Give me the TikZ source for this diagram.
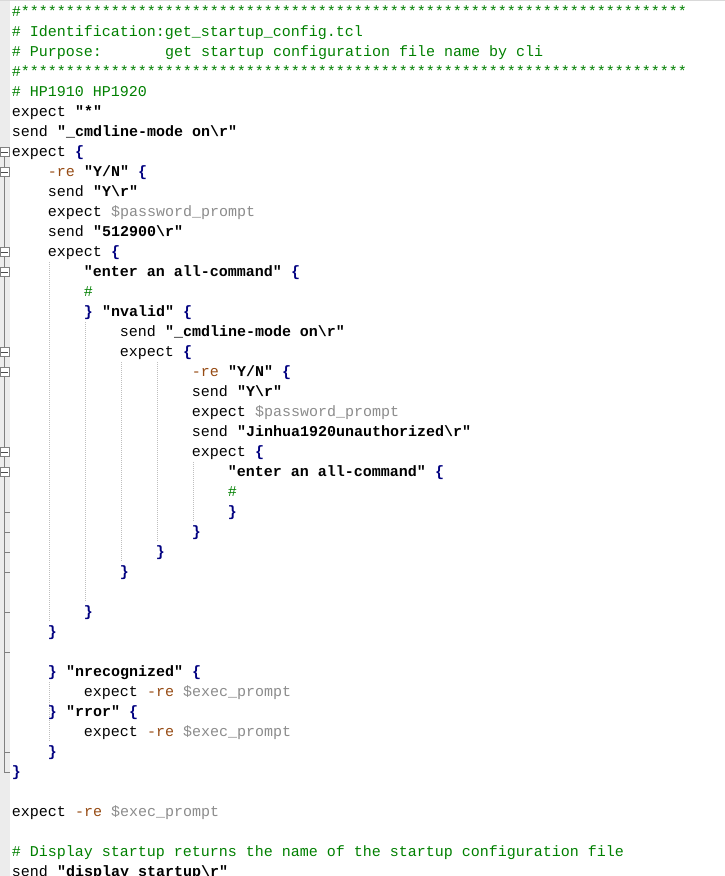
\documentclass[tikz,border=0pt]{standalone}
\usepackage{fontspec}
\setmonofont{Liberation Mono}
\usepackage{xcolor}
\usetikzlibrary{calc, positioning}
\definecolor{cmtgreen}{RGB}{0, 128, 0}
\definecolor{bracenavy}{RGB}{0, 0, 128}
\definecolor{optbrown}{RGB}{150, 75, 20}
\definecolor{vargray}{RGB}{140, 140, 140}
\definecolor{foldgray}{RGB}{128, 128, 128}
\definecolor{guidegray}{RGB}{190, 190, 190}
\definecolor{guttergray}{RGB}{236, 236, 236}
\newcommand{\codefont}{\ttfamily\fontsize{11.25pt}{15pt}\selectfont\frenchspacing
  \spaceskip=6.75pt\relax\xspaceskip=6.75pt\relax}
\newcommand{\green}[1]{{\color{cmtgreen}#1}}
\newcommand{\navy}[1]{{\color{bracenavy}\bfseries #1}}
\newcommand{\brown}[1]{{\color{optbrown}#1}}
\newcommand{\gray}[1]{{\color{vargray}#1}}
\newcommand{\qs}[1]{{\bfseries #1}}
\newcommand{\bsl}{\textbackslash}
\newcommand{\sps}[1]{\hspace*{#1\dimexpr 6.75pt\relax}}
\tikzset{
    linenode/.style = {draw=none, fill=none, rectangle, inner sep=0pt, outer sep=0pt,
      text width=528.75pt, align=flush left, text height=10.875pt, text depth=4.125pt,
      node distance=0em, font=\codefont},
    foldbox/.style = {draw=foldgray, fill=white, rectangle, inner sep=0pt, line width=0.75pt,
      minimum size=6.75pt},
    foldline/.style = {draw=foldgray, line width=0.75pt},
    minusline/.style = {draw=black!70, line width=0.75pt},
    guide/.style = {draw=guidegray, line width=0.75pt, dash pattern=on 0.75pt off 0.75pt}
}

\begin{document}
\begin{tikzpicture}[x=0.75pt, y=-0.75pt]
    \useasboundingbox (0,0) rectangle (725,876);
    \clip (0,0) rectangle (725,876);
    \fill[white] (0,0) rectangle (725,876);
    \fill[guttergray] (0,0) rectangle (10,876);
    \draw[gray!30, line width=0.75pt] (0,0.5) -- (725,0.5);

    % fold margin
    \draw[foldline] (4.5,152) -- (4.5,772) -- (10,772);
    \draw[foldline] (4.5,512) -- (10,512);
    \draw[foldline] (4.5,532) -- (10,532);
    \draw[foldline] (4.5,552) -- (10,552);
    \draw[foldline] (4.5,572) -- (10,572);
    \draw[foldline] (4.5,612) -- (10,612);
    \draw[foldline] (4.5,652) -- (10,652);
    \draw[foldline] (4.5,752) -- (10,752);

    \node [name=fb7, foldbox] at (4.5,152) {};
    \node [name=fb8, foldbox] at (4.5,172) {};
    \node [name=fb12, foldbox] at (4.5,252) {};
    \node [name=fb13, foldbox] at (4.5,272) {};
    \node [name=fb17, foldbox] at (4.5,352) {};
    \node [name=fb18, foldbox] at (4.5,372) {};
    \node [name=fb22, foldbox] at (4.5,452) {};
    \node [name=fb23, foldbox] at (4.5,472) {};
    \draw[minusline] ($(fb7.west)+(2,0)$) -- ($(fb7.east)+(-2,0)$);
    \draw[minusline] ($(fb8.west)+(2,0)$) -- ($(fb8.east)+(-2,0)$);
    \draw[minusline] ($(fb12.west)+(2,0)$) -- ($(fb12.east)+(-2,0)$);
    \draw[minusline] ($(fb13.west)+(2,0)$) -- ($(fb13.east)+(-2,0)$);
    \draw[minusline] ($(fb17.west)+(2,0)$) -- ($(fb17.east)+(-2,0)$);
    \draw[minusline] ($(fb18.west)+(2,0)$) -- ($(fb18.east)+(-2,0)$);
    \draw[minusline] ($(fb22.west)+(2,0)$) -- ($(fb22.east)+(-2,0)$);
    \draw[minusline] ($(fb23.west)+(2,0)$) -- ($(fb23.east)+(-2,0)$);

    % indent guides
    \draw[guide] (49.5,262) -- (49.5,622);
    \draw[guide] (49.5,682) -- (49.5,742);
    \draw[guide] (85.5,322) -- (85.5,602);
    \draw[guide] (121.5,362) -- (121.5,562);
    \draw[guide] (157.5,362) -- (157.5,542);
    \draw[guide] (193.5,462) -- (193.5,522);

    % code lines
    \node [name=ln0, linenode, anchor=north west] at (12,2)
        {\green{\#**************************************************************************}};
    \node [name=ln1, linenode, below of = ln0, yshift=-15pt] {\green{\# Identification:get\_startup\_config.tcl}};
    \node [name=ln2, linenode, below of = ln1, yshift=-15pt] {\green{\# Purpose:\sps{7}get startup configuration file name by cli}};
    \node [name=ln3, linenode, below of = ln2, yshift=-15pt]
        {\green{\#**************************************************************************}};
    \node [name=ln4, linenode, below of = ln3, yshift=-15pt] {\green{\# HP1910 HP1920}};
    \node [name=ln5, linenode, below of = ln4, yshift=-15pt] {expect \qs{"*"}};
    \node [name=ln6, linenode, below of = ln5, yshift=-15pt] {send \qs{"\_cmdline-mode on\bsl r"}};
    \node [name=ln7, linenode, below of = ln6, yshift=-15pt] {expect \navy{\{}};
    \node [name=ln8, linenode, below of = ln7, yshift=-15pt] {\sps{4}\brown{-re} \qs{"Y/N"} \navy{\{}};
    \node [name=ln9, linenode, below of = ln8, yshift=-15pt] {\sps{4}send \qs{"Y\bsl r"}};
    \node [name=ln10, linenode, below of = ln9, yshift=-15pt] {\sps{4}expect \gray{\$password\_prompt}};
    \node [name=ln11, linenode, below of = ln10, yshift=-15pt] {\sps{4}send \qs{"512900\bsl r"}};
    \node [name=ln12, linenode, below of = ln11, yshift=-15pt] {\sps{4}expect \navy{\{}};
    \node [name=ln13, linenode, below of = ln12, yshift=-15pt] {\sps{8}\qs{"enter an all-command"} \navy{\{}};
    \node [name=ln14, linenode, below of = ln13, yshift=-15pt] {\sps{8}\green{\#}};
    \node [name=ln15, linenode, below of = ln14, yshift=-15pt] {\sps{8}\navy{\}} \qs{"nvalid"} \navy{\{}};
    \node [name=ln16, linenode, below of = ln15, yshift=-15pt] {\sps{12}send \qs{"\_cmdline-mode on\bsl r"}};
    \node [name=ln17, linenode, below of = ln16, yshift=-15pt] {\sps{12}expect \navy{\{}};
    \node [name=ln18, linenode, below of = ln17, yshift=-15pt] {\sps{20}\brown{-re} \qs{"Y/N"} \navy{\{}};
    \node [name=ln19, linenode, below of = ln18, yshift=-15pt] {\sps{20}send \qs{"Y\bsl r"}};
    \node [name=ln20, linenode, below of = ln19, yshift=-15pt] {\sps{20}expect \gray{\$password\_prompt}};
    \node [name=ln21, linenode, below of = ln20, yshift=-15pt] {\sps{20}send \qs{"Jinhua1920unauthorized\bsl r"}};
    \node [name=ln22, linenode, below of = ln21, yshift=-15pt] {\sps{20}expect \navy{\{}};
    \node [name=ln23, linenode, below of = ln22, yshift=-15pt] {\sps{24}\qs{"enter an all-command"} \navy{\{}};
    \node [name=ln24, linenode, below of = ln23, yshift=-15pt] {\sps{24}\green{\#}};
    \node [name=ln25, linenode, below of = ln24, yshift=-15pt] {\sps{24}\navy{\}}};
    \node [name=ln26, linenode, below of = ln25, yshift=-15pt] {\sps{20}\navy{\}}};
    \node [name=ln27, linenode, below of = ln26, yshift=-15pt] {\sps{16}\navy{\}}};
    \node [name=ln28, linenode, below of = ln27, yshift=-15pt] {\sps{12}\navy{\}}};
    \node [name=ln29, linenode, below of = ln28, yshift=-15pt] {};
    \node [name=ln30, linenode, below of = ln29, yshift=-15pt] {\sps{8}\navy{\}}};
    \node [name=ln31, linenode, below of = ln30, yshift=-15pt] {\sps{4}\navy{\}}};
    \node [name=ln32, linenode, below of = ln31, yshift=-15pt] {};
    \node [name=ln33, linenode, below of = ln32, yshift=-15pt] {\sps{4}\navy{\}} \qs{"nrecognized"} \navy{\{}};
    \node [name=ln34, linenode, below of = ln33, yshift=-15pt] {\sps{8}expect \brown{-re} \gray{\$exec\_prompt}};
    \node [name=ln35, linenode, below of = ln34, yshift=-15pt] {\sps{4}\navy{\}} \qs{"rror"} \navy{\{}};
    \node [name=ln36, linenode, below of = ln35, yshift=-15pt] {\sps{8}expect \brown{-re} \gray{\$exec\_prompt}};
    \node [name=ln37, linenode, below of = ln36, yshift=-15pt] {\sps{4}\navy{\}}};
    \node [name=ln38, linenode, below of = ln37, yshift=-15pt] {\navy{\}}};
    \node [name=ln39, linenode, below of = ln38, yshift=-15pt] {};
    \node [name=ln40, linenode, below of = ln39, yshift=-15pt] {expect \brown{-re} \gray{\$exec\_prompt}};
    \node [name=ln41, linenode, below of = ln40, yshift=-15pt] {};
    \node [name=ln42, linenode, below of = ln41, yshift=-15pt]
        {\green{\# Display startup returns the name of the startup configuration file}};
    \node [name=ln43, linenode, below of = ln42, yshift=-15pt] {send \qs{"display startup\bsl r"}};
\end{tikzpicture}
\end{document}
